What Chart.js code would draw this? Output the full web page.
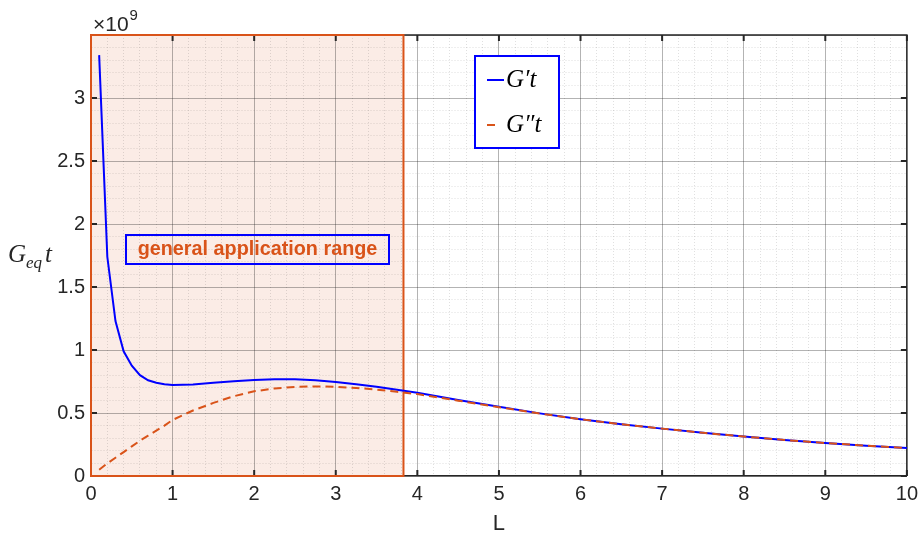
<!DOCTYPE html>
<html>
<head>
<meta charset="utf-8">
<script src="https://cdn.jsdelivr.net/npm/chart.js@4.4.0/dist/chart.umd.min.js"></script>
<style>
  html, body { margin: 0; padding: 0; background: #fff; }
  #wrap { width: 924px; height: 540px; position: relative; }
</style>
</head>
<body>
<div id="wrap"><canvas id="chart"></canvas></div>
<script>
// --- DATA (G values in units of 1e9) ---
const lValues = [0.1, 0.2, 0.3, 0.4, 0.5, 0.6, 0.7, 0.8, 0.9, 1.0,
                 1.25, 1.5, 1.75, 2.0, 2.25, 2.5, 2.75, 3.0, 3.25, 3.5, 3.75,
                 4.0, 4.5, 5.0, 5.5, 6.0, 6.5, 7.0, 7.5, 8.0, 8.5, 9.0, 9.5, 10.0];
const gPrimeT = [3.34, 1.74, 1.23, 0.99, 0.875, 0.80, 0.76, 0.74, 0.728, 0.722,
                 0.727, 0.740, 0.752, 0.762, 0.768, 0.768, 0.760, 0.746, 0.728, 0.708, 0.684,
                 0.660, 0.603, 0.549, 0.497, 0.451, 0.411, 0.376, 0.343, 0.313, 0.286, 0.262, 0.241, 0.222];
const gDoubleT = [0.05, 0.10, 0.145, 0.19, 0.235, 0.28, 0.32, 0.36, 0.40, 0.445,
                  0.52, 0.58, 0.633, 0.672, 0.695, 0.707, 0.711, 0.708, 0.699, 0.686, 0.668,
                  0.650, 0.598, 0.546, 0.496, 0.450, 0.411, 0.376, 0.343, 0.313, 0.286, 0.262, 0.241, 0.222];
const seriesLabels = ['G\u2032t', 'G\u2033t'];
const xTickLabels = [0, 1, 2, 3, 4, 5, 6, 7, 8, 9, 10];
const yTickLabels = [0, 0.5, 1, 1.5, 2, 2.5, 3];
const appRange = [0, 3.83];   // shaded "general application range"
const rangeNote = 'general application range';

const BLUE = '#0000ff';
const ORANGE = '#d95319';
const AXIS = '#262626';
const SANS = "'Liberation Sans', Arial, sans-serif";
const SERIF = "'Liberation Serif', 'Times New Roman', serif";

function isMajor(list, v) {
    return list.some(t => Math.abs(t - v) < 1e-6);
}
function majorLabel(list, v) {
    const t = list.find(t => Math.abs(t - v) < 1e-6);
    return t === undefined ? '' : String(t);
}

// --- DECORATION PLUGIN (shading, box, inside ticks, legend, labels) ---
const decor = {
    id: 'decor',
    beforeDraw(chart) {
        const { ctx, chartArea: a, scales: { x } } = chart;
        const x0 = x.getPixelForValue(appRange[0]);
        const x1 = x.getPixelForValue(appRange[1]);
        ctx.save();
        ctx.fillStyle = 'rgba(217,83,25,0.11)';
        ctx.fillRect(x0, a.top, x1 - x0, a.bottom - a.top);
        ctx.restore();
    },
    beforeDatasetsDraw(chart) {
        const { ctx, chartArea: a, scales: { x, y } } = chart;
        ctx.save();
        // top & right box lines
        ctx.strokeStyle = AXIS;
        ctx.lineWidth = 1.5;
        ctx.beginPath();
        ctx.moveTo(a.left, a.top); ctx.lineTo(a.right, a.top); ctx.lineTo(a.right, a.bottom);
        ctx.stroke();
        // inside ticks
        ctx.lineWidth = 2;
        ctx.beginPath();
        xTickLabels.forEach(v => {
            const px = x.getPixelForValue(v);
            ctx.moveTo(px, a.bottom); ctx.lineTo(px, a.bottom - 6);
            ctx.moveTo(px, a.top); ctx.lineTo(px, a.top + 6);
        });
        yTickLabels.forEach(v => {
            const py = y.getPixelForValue(v);
            ctx.moveTo(a.left, py); ctx.lineTo(a.left + 6, py);
            ctx.moveTo(a.right, py); ctx.lineTo(a.right - 6, py);
        });
        ctx.stroke();
        // range outline
        const x0 = x.getPixelForValue(appRange[0]);
        const x1 = x.getPixelForValue(appRange[1]);
        ctx.strokeStyle = ORANGE;
        ctx.lineWidth = 2;
        ctx.strokeRect(x0, a.top, x1 - x0, a.bottom - a.top);
        ctx.restore();
    },
    afterDraw(chart) {
        const { ctx, chartArea: a } = chart;
        ctx.save();

        // exponent label
        ctx.fillStyle = AXIS;
        ctx.textBaseline = 'alphabetic';
        ctx.font = '21px ' + SANS;
        ctx.fillText('\u00d710', a.left + 2, 31);
        const w = ctx.measureText('\u00d710').width;
        ctx.font = '15px ' + SANS;
        ctx.fillText('9', a.left + 3 + w, 20);

        // y label G_eq t
        ctx.font = 'italic 25px ' + SERIF;
        ctx.fillText('G', 8, 262);
        ctx.font = 'italic 17px ' + SERIF;
        ctx.fillText('eq', 26, 268);
        ctx.font = 'italic 25px ' + SERIF;
        ctx.fillText('t', 45, 262);

        // range annotation box
        ctx.strokeStyle = BLUE;
        ctx.lineWidth = 2;
        ctx.strokeRect(126, 235, 263, 29);
        ctx.fillStyle = ORANGE;
        ctx.font = 'bold 19.8px ' + SANS;
        ctx.textAlign = 'center';
        ctx.textBaseline = 'middle';
        ctx.fillText(rangeNote, 257.5, 250);

        // legend
        ctx.textAlign = 'left';
        ctx.fillStyle = '#fff';
        ctx.fillRect(475, 56, 84, 92);
        ctx.strokeStyle = BLUE;
        ctx.lineWidth = 2;
        ctx.strokeRect(475, 56, 84, 92);
        chart.data.datasets.forEach((ds, i) => {
            const ly = i === 0 ? 80 : 125;
            ctx.strokeStyle = ds.borderColor;
            ctx.lineWidth = 2;
            ctx.setLineDash(i === 0 ? [] : [8, 10]);
            ctx.beginPath();
            ctx.moveTo(487, ly); ctx.lineTo(504, ly);
            ctx.stroke();
            ctx.setLineDash([]);
            ctx.fillStyle = '#000';
            ctx.font = 'italic 25px ' + SERIF;
            ctx.textBaseline = 'middle';
            ctx.fillText(ds.label, 506, ly);
        });
        ctx.restore();
    }
};

const ctx = document.getElementById('chart').getContext('2d');
new Chart(ctx, {
    type: 'line',
    data: {
        datasets: [{
            label: seriesLabels[0],
            data: lValues.map((l, i) => ({ x: l, y: gPrimeT[i] })),
            borderColor: BLUE,
            borderWidth: 2,
            pointRadius: 0,
            tension: 0,
            order: 1
        }, {
            label: seriesLabels[1],
            data: lValues.map((l, i) => ({ x: l, y: gDoubleT[i] })),
            borderColor: ORANGE,
            borderWidth: 2,
            borderDash: [8, 5],
            pointRadius: 0,
            tension: 0,
            order: 0
        }]
    },
    options: {
        responsive: true,
        maintainAspectRatio: false,
        animation: false,
        layout: { padding: { top: 35, right: 17, left: 0, bottom: 0 } },
        plugins: { legend: { display: false }, tooltip: { enabled: false } },
        scales: {
            x: {
                type: 'linear',
                min: 0, max: 10,
                afterFit: s => { s.height = 64; },
                ticks: {
                    stepSize: 0.2, autoSkip: false, maxRotation: 0, maxTicksLimit: 100,
                    padding: 6, color: AXIS,
                    font: { size: 20, family: SANS },
                    callback: v => majorLabel(xTickLabels, v)
                },
                grid: {
                    drawTicks: false,
                    color: c => (c.tick && isMajor(xTickLabels, c.tick.value)) ? 'rgba(38,38,38,0.35)' : 'rgba(38,38,38,0.14)',
                    lineWidth: 1
                },
                border: {
                    color: AXIS, width: 1.5,
                    dash: c => (c.tick && !isMajor(xTickLabels, c.tick.value)) ? [1, 2] : []
                },
                title: {
                    display: true, text: 'L', color: AXIS,
                    font: { size: 22, family: SANS },
                    padding: { top: 0, bottom: 3 }
                }
            },
            y: {
                type: 'linear',
                min: 0, max: 3.5,
                afterFit: s => { s.width = 91; },
                ticks: {
                    stepSize: 0.1, autoSkip: false, maxTicksLimit: 100,
                    padding: 6, color: AXIS,
                    font: { size: 20, family: SANS },
                    callback: v => majorLabel(yTickLabels, v)
                },
                grid: {
                    drawTicks: false,
                    color: c => (c.tick && isMajor(yTickLabels.concat([3.5]), c.tick.value)) ? 'rgba(38,38,38,0.35)' : 'rgba(38,38,38,0.14)',
                    lineWidth: 1
                },
                border: {
                    color: AXIS, width: 1.5,
                    dash: c => (c.tick && !isMajor(yTickLabels.concat([3.5]), c.tick.value)) ? [1, 2] : []
                }
            }
        }
    },
    plugins: [decor]
});
</script>
</body>
</html>
